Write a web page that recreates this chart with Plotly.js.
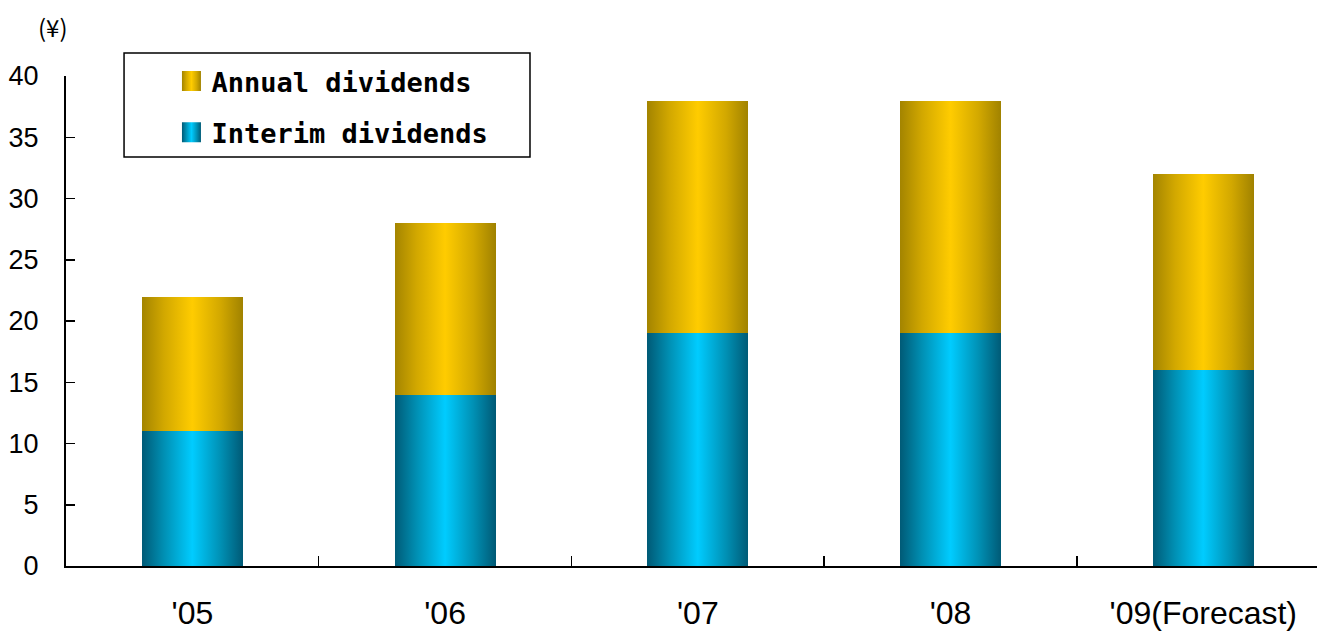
<!DOCTYPE html>
<html>
<head>
<meta charset="utf-8">
<script src="https://cdn.plot.ly/plotly-3.0.1.min.js"></script>
<style>
  html, body { margin: 0; padding: 0; background: #fff; }
  #chart { width: 1317px; height: 632px; }
</style>
</head>
<body>
<div id="chart"></div>
<script>
// Fiscal years and dividend per share (yen)
const years = ["'05", "'06", "'07", "'08", "'09(Forecast)"];
const interimDividends = [11, 14, 19, 19, 16];
const annualDividends = [11, 14, 19, 19, 16];

const seriesNames = ['Interim dividends', 'Annual dividends'];
const yTicks = [0, 5, 10, 15, 20, 25, 30, 35, 40];

const positions = years.map((_, i) => i);
const boundaries = positions.slice(1).map(p => p - 0.5);

const fillSolid = { 'Interim dividends': '#00b8e6', 'Annual dividends': '#f0c000' };

const traces = [
  {
    type: 'bar', name: seriesNames[0], x: positions, y: interimDividends,
    legendgroup: 'interim', legendrank: 2,
    marker: { color: fillSolid[seriesNames[0]], line: { width: 0 } },
    hoverinfo: 'y'
  },
  {
    type: 'bar', name: seriesNames[1], x: positions, y: annualDividends,
    legendgroup: 'annual', legendrank: 1,
    marker: { color: fillSolid[seriesNames[1]], line: { width: 0 } },
    hoverinfo: 'y'
  }
];

const layout = {
  width: 1317, height: 632,
  margin: { l: 66, r: 0, t: 76, b: 66 },
  paper_bgcolor: '#fff', plot_bgcolor: '#fff',
  barmode: 'stack', bargap: 0.6,
  showlegend: true,
  font: { family: '"Liberation Sans", Arial, sans-serif', color: '#000' },
  xaxis: {
    range: [-0.5, 4.45],
    tickmode: 'array', tickvals: positions, ticktext: years,
    ticks: '', showgrid: false, zeroline: false,
    showline: true, linecolor: '#000', linewidth: 2,
    tickfont: { size: 32, color: '#000' },
    ticklabelstandoff: 18,
    minor: { tickmode: 'array', tickvals: boundaries, ticks: 'inside', ticklen: 10, tickwidth: 1.5, tickcolor: '#000', showgrid: false },
    fixedrange: true
  },
  yaxis: {
    range: [0, 40],
    tickmode: 'array', tickvals: yTicks,
    ticks: 'inside', ticklen: 9, tickwidth: 1.5, tickcolor: '#000',
    showgrid: false, zeroline: false,
    showline: true, linecolor: '#000', linewidth: 2,
    tickfont: { size: 27, color: '#000' },
    ticklabelstandoff: 20,
    fixedrange: true
  },
  legend: {
    x: 0.0843, xanchor: 'left', xref: 'paper',
    y: 1.0388, yanchor: 'top', yref: 'paper',
    bgcolor: 'rgba(0,0,0,0)', borderwidth: 0,
    traceorder: 'grouped', tracegroupgap: 13,
    font: { family: '"DejaVu Sans Mono", monospace', size: 27, color: '#000', weight: 'bold' }
  },
  shapes: [
    {
      type: 'rect', xref: 'paper', yref: 'paper',
      x0: 0.0464, x1: 0.3709, y0: 0.8347, y1: 1.0469,
      line: { color: '#000', width: 1.5 }, fillcolor: 'rgba(0,0,0,0)', layer: 'above'
    }
  ],
  annotations: [
    {
      text: '(¥)', xref: 'paper', yref: 'paper',
      x: -0.0104, y: 1.1, xanchor: 'center', yanchor: 'middle',
      showarrow: false,
      font: { family: '"Noto Sans CJK JP", sans-serif', size: 24, color: '#000' }
    }
  ]
};

const gradients = {
  'Interim dividends': [
    [0, '#005a76'], [0.22, '#0090b4'], [0.5, '#00ccff'], [0.78, '#0090b4'], [1, '#005a76']
  ],
  'Annual dividends': [
    [0, '#a38400'], [0.22, '#d2a800'], [0.5, '#ffcc00'], [0.78, '#d2a800'], [1, '#a08200']
  ]
};

function gradientId(name) { return 'grad-' + name.split(' ')[0].toLowerCase(); }

function applyGradients(gd) {
  const svgNS = 'http://www.w3.org/2000/svg';
  const svg = gd.querySelector('svg.main-svg');
  let defs = svg.querySelector('defs');
  if (!defs) { defs = document.createElementNS(svgNS, 'defs'); svg.insertBefore(defs, svg.firstChild); }
  Object.keys(gradients).forEach(name => {
    const id = gradientId(name);
    if (defs.querySelector('#' + id)) return;
    const lg = document.createElementNS(svgNS, 'linearGradient');
    lg.setAttribute('id', id);
    lg.setAttribute('x1', '0'); lg.setAttribute('x2', '1');
    lg.setAttribute('y1', '0'); lg.setAttribute('y2', '0');
    gradients[name].forEach(([off, col]) => {
      const st = document.createElementNS(svgNS, 'stop');
      st.setAttribute('offset', off);
      st.setAttribute('stop-color', col);
      lg.appendChild(st);
    });
    defs.appendChild(lg);
  });

  gd.querySelectorAll('.barlayer .trace').forEach(tr => {
    const d = tr.__data__;
    const name = d && d[0] && d[0].trace && d[0].trace.name;
    if (!name || !gradients[name]) return;
    tr.querySelectorAll('path').forEach(p => { p.style.fill = 'url(#' + gradientId(name) + ')'; });
  });

  gd.querySelectorAll('.legend .traces').forEach(tr => {
    const d = tr.__data__;
    const name = d && d[0] && d[0].trace && d[0].trace.name;
    if (!name || !gradients[name]) return;
    tr.querySelectorAll('.legendpoints path').forEach(p => {
      p.setAttribute('d', 'M9.5,10H-9.5V-10H9.5Z');
      p.style.fill = 'url(#' + gradientId(name) + ')';
      p.style.stroke = 'none';
    });
  });
}

Plotly.newPlot('chart', traces, layout, { displayModeBar: false, staticPlot: true })
  .then(gd => applyGradients(gd));
</script>
</body>
</html>
